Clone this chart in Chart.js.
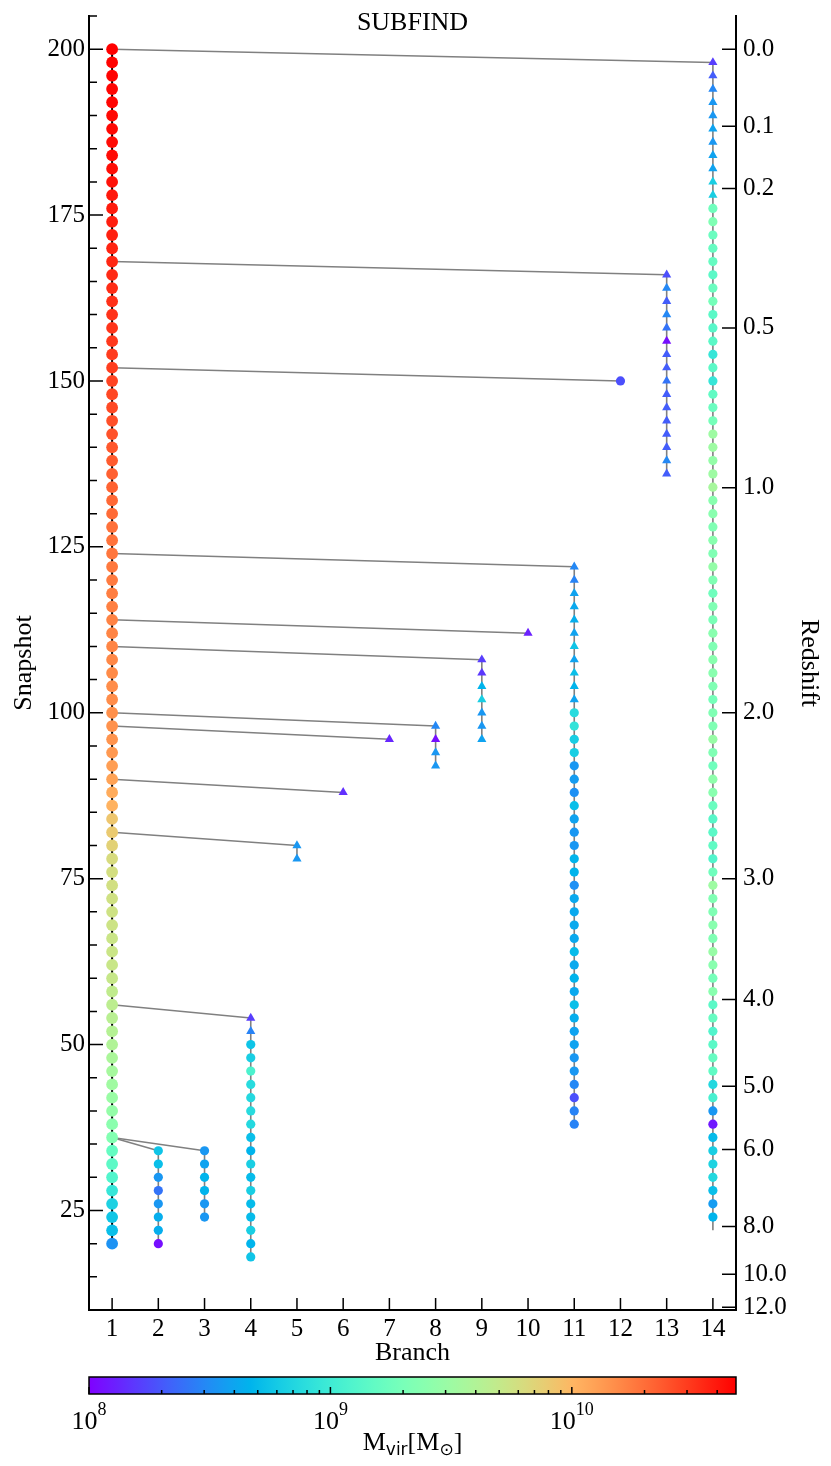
<!DOCTYPE html>
<html>
<head>
<meta charset="utf-8">
<title>SUBFIND merger tree</title>
<script src="https://cdn.jsdelivr.net/npm/chart.js@4.4.1/dist/chart.umd.min.js"></script>
<style>
  html, body { margin: 0; padding: 0; background: #fff; }
  #page { position: relative; width: 831px; height: 1466px; }
  .box { position: absolute; left: 0; width: 831px; }
</style>
</head>
<body>
<div id="page">
  <div class="box" style="top:0;height:1374px"><canvas id="tree"></canvas></div>
  <div class="box" style="top:1374px;height:92px"><canvas id="cbar"></canvas></div>
</div>
<script>
const SERIF = "'Liberation Serif', 'Times New Roman', serif";
const SANS = "'DejaVu Sans', sans-serif";

// branches of the tree: first snapshot, snapshot it merges into branch 1, leading subhalo points
const branchIds = [1, 2, 3, 4, 5, 6, 7, 8, 9, 10, 11, 12, 13, 14];
const branchTopSnap = [200, 34, 34, 54, 80, 88, 96, 98, 108, 112, 122, 150, 166, 198];
const mergeSnap = [null, 36, 36, 56, 82, 90, 98, 100, 110, 114, 124, 152, 168, 200];
const subhaloCount = [0, 0, 0, 2, 2, 1, 1, 4, 7, 1, 11, 0, 16, 11];
const snapStep = 2;

// log10(Mvir / Msun), from the top snapshot of each branch downwards
const logMvir1 = [
  10.68, 10.67, 10.67, 10.66, 10.66, 10.65, 10.65, 10.64, 10.64, 10.63,
  10.62, 10.60, 10.59, 10.58, 10.57, 10.56, 10.55, 10.54, 10.53, 10.52,
  10.51, 10.50, 10.49, 10.48, 10.47, 10.45, 10.44, 10.43, 10.41, 10.40,
  10.38, 10.37, 10.35, 10.34, 10.32, 10.31, 10.29, 10.28, 10.27, 10.26,
  10.25, 10.24, 10.23, 10.22, 10.21, 10.21, 10.20, 10.19, 10.18, 10.18,
  10.17, 10.16, 10.15, 10.13, 10.11, 10.09, 10.05, 10.02, 9.92, 9.90,
  9.86, 9.80, 9.78, 9.77, 9.76, 9.75, 9.74, 9.73, 9.73, 9.72,
  9.71, 9.68, 9.66, 9.64, 9.62, 9.60, 9.57, 9.54, 9.51, 9.48,
  9.45, 9.40, 9.36, 9.20, 9.16, 9.10, 8.96, 8.82, 8.76, 8.72,
  8.52
];
const logMvir2 = [8.75, 8.72, 8.54, 8.40, 8.54, 8.64, 8.64, 8.05];
const logMvir3 = [8.54, 8.59, 8.67, 8.67, 8.54, 8.54];
const logMvir4 = [8.21, 8.46, 8.75, 8.80, 9.07, 8.88, 8.86, 8.88, 8.86, 8.72,
  8.67, 8.80, 8.70, 8.80, 8.70, 8.70, 8.80, 8.67, 8.75];
const logMvir5 = [8.54, 8.54];
const logMvir6 = [8.16];
const logMvir7 = [8.13];
const logMvir8 = [8.48, 8.05, 8.54, 8.54];
const logMvir9 = [8.21, 8.19, 8.67, 8.80, 8.54, 8.54, 8.59];
const logMvir10 = [8.11];
const logMvir11 = [
  8.48, 8.46, 8.59, 8.62, 8.64, 8.59, 8.75, 8.59, 8.72, 8.67, 8.59,
  8.88, 8.94, 8.80, 8.80, 8.54, 8.56, 8.51, 8.72, 8.59, 8.54,
  8.54, 8.67, 8.67, 8.51, 8.62, 8.62, 8.62, 8.62, 8.70, 8.62,
  8.67, 8.62, 8.72, 8.64, 8.59, 8.59, 8.54, 8.54, 8.48, 8.27,
  8.46, 8.46
];
const logMvir12 = [8.27];
const logMvir13 = [8.27, 8.48, 8.32, 8.48, 8.40, 8.05, 8.32, 8.32, 8.40, 8.32,
  8.32, 8.32, 8.32, 8.32, 8.48, 8.32];
const logMvir14 = [
  8.21, 8.32, 8.48, 8.54, 8.54, 8.59, 8.54, 8.59, 8.59, 8.80,
  8.80, 9.26, 9.34, 9.23, 9.21, 9.21, 9.15, 9.23, 9.29, 9.15,
  9.13, 9.15, 8.96, 9.15, 8.96, 9.18, 9.23, 9.29, 9.50, 9.50,
  9.45, 9.50, 9.55, 9.39, 9.39, 9.34, 9.39, 9.34, 9.45, 9.34,
  9.26, 9.34, 9.31, 9.39, 9.34, 9.39, 9.39, 9.34, 9.29, 9.34,
  9.34, 9.47, 9.34, 9.26, 9.42, 9.39, 9.23, 9.13, 9.15, 9.18,
  9.10, 9.26, 9.50, 9.34, 9.34, 9.39, 9.34, 9.47, 9.39, 9.29,
  9.39, 9.15, 9.21, 9.10, 9.15, 9.21, 9.18, 8.86, 9.05, 8.54,
  8.08, 8.70, 8.80, 8.83, 8.86, 8.72, 8.56, 8.67,
  null
];
const massSeries = [logMvir1, logMvir2, logMvir3, logMvir4, logMvir5, logMvir6, logMvir7,
  logMvir8, logMvir9, logMvir10, logMvir11, logMvir12, logMvir13, logMvir14];

// axes
const snapTicks = [25, 50, 75, 100, 125, 150, 175, 200];
const redshiftLabels = ["0.0", "0.1", "0.2", "0.5", "1.0", "2.0", "3.0", "4.0", "5.0", "6.0", "8.0", "10.0", "12.0"];
const redshiftSnap = [200, 188.4, 179.0, 158.0, 133.9, 100.0, 75.0, 56.8, 43.7, 34.2, 22.6, 15.4, 10.4];
const cbarExponents = [8, 9, 10];
const cbarLogMin = 8;
const cbarLogMax = 10.68;

// matplotlib "rainbow"
function rainbow(t) {
  t = Math.min(1, Math.max(0, t));
  const r = Math.min(1, Math.abs(2 * t - 0.5));
  const g = Math.sin(Math.PI * t);
  const b = Math.cos(Math.PI * t / 2);
  return `rgb(${Math.round(r * 255)},${Math.round(g * 255)},${Math.round(b * 255)})`;
}
const massColor = lm => lm === null ? "rgba(0,0,0,0)" : rainbow((lm - cbarLogMin) / (cbarLogMax - cbarLogMin));

const datasets = [];
branchIds.forEach((b, k) => {
  const masses = massSeries[k];
  const main = k === 0;
  const isSub = i => i < subhaloCount[k];
  datasets.push({
    label: "Branch " + b,
    data: masses.map((m, i) => ({ x: b, y: branchTopSnap[k] - snapStep * i })),
    showLine: true,
    borderColor: main ? "#000" : "#808080",
    borderWidth: main ? 2 : 1.6,
    pointStyle: masses.map((m, i) => isSub(i) ? "triangle" : "circle"),
    pointRadius: masses.map((m, i) => m === null ? 0 : main ? 5.9 : isSub(i) ? 5.3 : 4.6),
    pointBackgroundColor: masses.map(massColor),
    pointBorderWidth: 0,
    order: 1
  });
});
branchIds.forEach((b, k) => {
  if (mergeSnap[k] === null) return;
  datasets.push({
    label: "merge " + b,
    data: [{ x: 1, y: mergeSnap[k] }, { x: b, y: branchTopSnap[k] }],
    showLine: true,
    borderColor: "#808080",
    borderWidth: 1.5,
    pointRadius: 0,
    order: 2
  });
});

const frameTicks = {
  id: "frameTicks",
  afterDraw(chart) {
    const { ctx, chartArea: a, scales: { x, y, y2 } } = chart;
    ctx.save();
    ctx.strokeStyle = "#000";
    ctx.lineWidth = 1.5;
    ctx.beginPath();
    for (let v = 10; v <= 205; v += 5) {
      const py = y.getPixelForValue(v);
      const len = v % 25 === 0 ? 14 : 8;
      ctx.moveTo(a.left, py);
      ctx.lineTo(a.left + len, py);
    }
    branchIds.forEach(b => {
      const px = x.getPixelForValue(b);
      ctx.moveTo(px, a.bottom);
      ctx.lineTo(px, a.bottom - 12);
    });
    redshiftSnap.forEach(s => {
      const py = y2.getPixelForValue(s);
      ctx.moveTo(a.right, py);
      ctx.lineTo(a.right - 14, py);
    });
    ctx.stroke();
    ctx.fillStyle = "#000";
    ctx.font = `26px ${SERIF}`;
    ctx.textAlign = "center";
    ctx.textBaseline = "middle";
    ctx.fillText("SUBFIND", (a.left + a.right) / 2, 23);
    ctx.restore();
  }
};

const tickFont = { family: SERIF, size: 25 };
const titleFont = { family: SERIF, size: 26 };

new Chart(document.getElementById("tree"), {
  type: "scatter",
  data: { datasets },
  options: {
    responsive: true,
    maintainAspectRatio: false,
    animation: false,
    events: [],
    layout: { padding: { top: 16, left: 0, right: 0, bottom: 0 } },
    plugins: { legend: { display: false }, tooltip: { enabled: false } },
    scales: {
      x: {
        type: "linear",
        min: 0.5,
        max: 14.5,
        afterBuildTicks: s => { s.ticks = branchIds.map(v => ({ value: v })); },
        grid: { display: false, drawTicks: false },
        border: { color: "#000", width: 2 },
        ticks: { color: "#000", font: tickFont, padding: 4, autoSkip: false, maxRotation: 0 },
        title: { display: true, text: "Branch", color: "#000", font: titleFont, padding: { top: 0, bottom: 5 } },
        afterFit(s) { s.height = 64; s.paddingLeft = 0; s.paddingRight = 0; }
      },
      y: {
        type: "linear",
        min: 10,
        max: 205,
        afterBuildTicks: s => { s.ticks = snapTicks.map(v => ({ value: v })); },
        grid: { display: false, drawTicks: false },
        border: { color: "#000", width: 2 },
        ticks: { color: "#000", font: tickFont, padding: 4, autoSkip: false },
        title: { display: true, text: "Snapshot", color: "#000", font: titleFont, padding: { top: 9, bottom: 0 } },
        afterFit(s) { s.width = 89; s.paddingTop = 0; s.paddingBottom = 0; }
      },
      y2: {
        type: "linear",
        position: "right",
        min: 10,
        max: 205,
        afterBuildTicks: s => { s.ticks = redshiftSnap.map(v => ({ value: v })); },
        grid: { display: false, drawTicks: false },
        border: { color: "#000", width: 2 },
        ticks: { color: "#000", font: tickFont, padding: 7, autoSkip: false, callback: (v, i) => redshiftLabels[i] },
        title: { display: true, text: "Redshift", color: "#000", font: titleFont, padding: { top: 7, bottom: 0 } },
        afterFit(s) { s.width = 95; s.paddingTop = 0; s.paddingBottom = 0; }
      }
    }
  },
  plugins: [frameTicks]
});

const colorbar = {
  id: "colorbar",
  afterDraw(chart) {
    const { ctx, chartArea: a, scales: { x } } = chart;
    ctx.save();
    const grad = ctx.createLinearGradient(a.left, 0, a.right, 0);
    for (let i = 0; i <= 64; i++) grad.addColorStop(i / 64, rainbow(i / 64));
    ctx.fillStyle = grad;
    ctx.fillRect(a.left, a.top, a.right - a.left, a.bottom - a.top);

    ctx.strokeStyle = "#000";
    ctx.lineWidth = 1.5;
    ctx.beginPath();
    for (let e = cbarLogMin; e < cbarLogMax; e++) {
      for (let m = 1; m <= 9; m++) {
        const v = m * Math.pow(10, e);
        if (Math.log10(v) > cbarLogMax) break;
        const px = x.getPixelForValue(v);
        const len = m === 1 ? 7 : 4;
        ctx.moveTo(px, a.bottom);
        ctx.lineTo(px, a.bottom - len);
      }
    }
    ctx.stroke();
    ctx.strokeRect(a.left, a.top, a.right - a.left, a.bottom - a.top);

    ctx.fillStyle = "#000";
    ctx.textBaseline = "alphabetic";
    ctx.textAlign = "left";
    cbarExponents.forEach(e => {
      const px = x.getPixelForValue(Math.pow(10, e));
      ctx.font = `26px ${SERIF}`;
      const w1 = ctx.measureText("10").width;
      ctx.font = `18px ${SERIF}`;
      const w2 = ctx.measureText(String(e)).width;
      const x0 = px - (w1 + w2) / 2;
      ctx.font = `26px ${SERIF}`;
      ctx.fillText("10", x0, 55);
      ctx.font = `18px ${SERIF}`;
      ctx.fillText(String(e), x0 + w1, 41);
    });

    const parts = [
      ["M", `26px ${SERIF}`, 0],
      ["vir", `17px ${SANS}`, 5],
      ["[M", `26px ${SERIF}`, 0],
      ["\u2299", `17px ${SANS}`, 5],
      ["]", `26px ${SERIF}`, 0]
    ];
    let total = 0;
    parts.forEach(p => { ctx.font = p[1]; p.push(ctx.measureText(p[0]).width); total += p[3]; });
    let cx = (a.left + a.right) / 2 - total / 2;
    parts.forEach(p => {
      ctx.font = p[1];
      ctx.fillText(p[0], cx, 76 + p[2]);
      cx += p[3];
    });
    ctx.restore();
  }
};

new Chart(document.getElementById("cbar"), {
  type: "scatter",
  data: { datasets: [] },
  options: {
    responsive: true,
    maintainAspectRatio: false,
    animation: false,
    events: [],
    layout: { padding: { left: 89, right: 95, top: 3, bottom: 0 } },
    plugins: { legend: { display: false }, tooltip: { enabled: false } },
    scales: {
      x: {
        type: "logarithmic",
        min: Math.pow(10, cbarLogMin),
        max: Math.pow(10, cbarLogMax),
        grid: { display: false, drawTicks: false },
        border: { display: false },
        ticks: { display: false },
        afterFit(s) { s.height = 72; s.paddingLeft = 0; s.paddingRight = 0; }
      },
      y: { display: false, min: 0, max: 1 }
    }
  },
  plugins: [colorbar]
});
</script>
</body>
</html>
